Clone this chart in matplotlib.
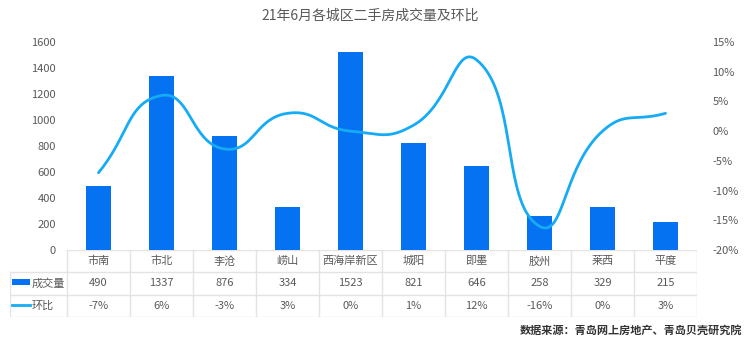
import matplotlib
matplotlib.use('Agg')
import matplotlib.pyplot as plt
import numpy as np

plt.rcParams['font.family'] = ['Noto Sans CJK SC', 'DejaVu Sans']

districts = ['市南', '市北', '李沧', '崂山', '西海岸新区', '城阳', '即墨', '胶州', '莱西', '平度']
volume = [490, 1337, 876, 334, 1523, 821, 646, 258, 329, 215]
mom_pct = [-7, 6, -3, 3, 0, 1, 12, -16, 0, 3]
left_ticks = [0, 200, 400, 600, 800, 1000, 1200, 1400, 1600]
right_ticks = [-20, -15, -10, -5, 0, 5, 10, 15]

BAR_C = '#0572f2'
LINE_C = '#16abf5'
TEXT_C = '#595959'
GRID_C = '#e3e3e3'

W, H = 750, 344
fig = plt.figure(figsize=(W / 100, H / 100), dpi=100)

# plot area in pixels: x 67..697, y 42..250
ax = fig.add_axes([67 / W, (H - 250) / H, 630 / W, 208 / H])
x = np.arange(len(districts))
ax.bar(x, volume, width=0.4, color=BAR_C, zorder=2)
ax.set_xlim(-0.5, len(districts) - 0.5)
ax.set_ylim(0, 1600)
ax.set_yticks(left_ticks)
ax.set_xticks([])
ax.tick_params(axis='y', length=0, pad=8, labelsize=8, labelcolor=TEXT_C)
for s in ['top', 'left', 'right', 'bottom']:
    ax.spines[s].set_visible(False)

ax2 = ax.twinx()
ax2.set_ylim(-20, 15)
ax2.set_yticks(right_ticks)
ax2.set_yticklabels([f'{t}%' for t in right_ticks])
ax2.tick_params(axis='y', length=0, pad=11, labelsize=8, labelcolor=TEXT_C)
for s in ['top', 'left', 'right', 'bottom']:
    ax2.spines[s].set_visible(False)


def smooth_curve(axis, xs, ys, smooth=0.5, n=40):
    # bezier smoothing done in display space
    pts = axis.transData.transform(np.column_stack([xs, ys]))
    out = []
    m = len(pts)
    cps = []
    for i in range(m):
        p = pts[i]
        prev = pts[i - 1] if i > 0 else p
        nxt = pts[i + 1] if i < m - 1 else p
        v = nxt - prev
        d0 = np.linalg.norm(p - prev)
        d1 = np.linalg.norm(p - nxt)
        tot = d0 + d1
        if tot:
            d0, d1 = d0 / tot, d1 / tot
        cps.append((p - v * smooth * d0, p + v * smooth * d1))
    t = np.linspace(0, 1, n)[:, None]
    for i in range(m - 1):
        p0, p3 = pts[i], pts[i + 1]
        p1, p2 = cps[i][1], cps[i + 1][0]
        seg = ((1 - t) ** 3) * p0 + 3 * ((1 - t) ** 2) * t * p1 + 3 * (1 - t) * t ** 2 * p2 + t ** 3 * p3
        out.append(seg)
    curve = np.vstack(out)
    return axis.transData.inverted().transform(curve)


curve = smooth_curve(ax2, x, mom_pct)
ax2.plot(curve[:, 0], curve[:, 1], color=LINE_C, lw=2, solid_capstyle='round', zorder=3)

# data table under the chart
header_w = 57 / 63
tab = fig.add_axes([10 / W, (H - 317) / H, 687 / W, 67 / H])
tab.set_xlim(-0.5 - header_w, len(districts) - 0.5)
tab.set_ylim(0, 3)
tab.axis('off')
x_left, x_right = -0.5 - header_w, len(districts) - 0.5
tab.plot([-0.5, x_right], [3, 3], color=GRID_C, lw=1)
for yy in [0, 1, 2]:
    tab.plot([x_left, x_right], [yy, yy], color=GRID_C, lw=1)
tab.plot([x_left, x_left], [0, 2], color=GRID_C, lw=1)
for i in range(len(districts) + 1):
    tab.plot([i - 0.5, i - 0.5], [0, 3], color=GRID_C, lw=1)

for i, name in enumerate(districts):
    tab.text(i, 2.5, name, ha='center', va='center', fontsize=8, color=TEXT_C)
    tab.text(i, 1.5, str(volume[i]), ha='center', va='center', fontsize=8, color=TEXT_C)
    tab.text(i, 0.5, f'{mom_pct[i]}%', ha='center', va='center', fontsize=8, color=TEXT_C)

# row headers with legend keys
key_x0 = x_left + 2 / 63
key_x1 = x_left + 20 / 63
tab.add_patch(plt.Rectangle((key_x0, 1.42), key_x1 - key_x0, 0.3, color=BAR_C, lw=0))
tab.plot([key_x0, key_x1], [0.55, 0.55], color=LINE_C, lw=2)
tab.text(key_x1 + 2 / 63, 1.5, '成交量', ha='left', va='center', fontsize=8, color=TEXT_C)
tab.text(key_x1 + 2 / 63, 0.5, '环比', ha='left', va='center', fontsize=8, color=TEXT_C)

fig.text(370 / W, 1 - 16 / H, '21年6月各城区二手房成交量及环比', ha='center', va='center',
         fontsize=10, color=TEXT_C)
fig.text(742 / W, 1 - 330 / H, '数据来源：青岛网上房地产、青岛贝壳研究院', ha='right', va='center',
         fontsize=8, color='#333333', fontweight='bold')

fig.savefig('out.png', dpi=100)
